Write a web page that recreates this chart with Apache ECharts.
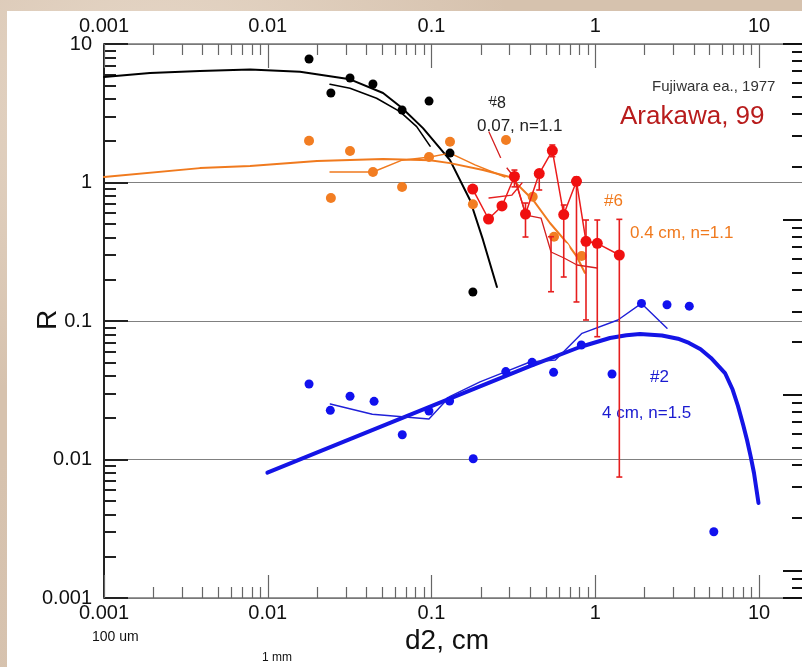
<!DOCTYPE html>
<html>
<head>
<meta charset="utf-8">
<script src="https://cdn.jsdelivr.net/npm/echarts@6/dist/echarts.min.js"></script>
<style>
  html, body { margin:0; padding:0; }
  body {
    width:802px; height:667px; position:relative; overflow:hidden;
    background-color:#d6c2ae;
    background-image:
      radial-gradient(ellipse at 20% 15%, rgba(235,222,208,0.8), rgba(235,222,208,0) 40%),
      radial-gradient(ellipse at 80% 60%, rgba(196,170,150,0.7), rgba(196,170,150,0) 45%),
      radial-gradient(ellipse at 40% 90%, rgba(225,205,188,0.8), rgba(225,205,188,0) 50%);
  }
  #panel { position:absolute; left:7px; top:11px; right:0; bottom:0; background:#fff; }
  #chart { position:absolute; left:0; top:0; width:802px; height:667px; }
</style>
</head>
<body>
<div id="panel"></div>
<div id="chart"></div>
<script>
// ---------- data (x = d2 in cm, y = R) ----------
const xTickLabels = [0.001, 0.01, 0.1, 1, 10];
const yTickLabels = [0.001, 0.01, 0.1, 1, 10];

// Fujiwara #8 (0.07 cm)
const blackPts = [[0.01787,7.8],[0.0243,4.43],[0.0318,5.68],[0.0439,5.14],[0.0661,3.34],[0.0966,3.87],[0.1297,1.63],[0.179,0.162]];
const blackFit = [[0.001,5.78],[0.00191,6.18],[0.00385,6.38],[0.0078,6.55],[0.01574,6.31],[0.0318,5.56],[0.0506,4.43],[0.0661,3.45],[0.0887,2.47],[0.1297,1.45],[0.1718,0.748],[0.2063,0.385],[0.251,0.176]];
const blackModel = [[0.024,5.12],[0.0318,4.79],[0.0462,4.06],[0.0642,3.25],[0.0812,2.53],[0.098,1.83]];

// Fujiwara #6 (0.4 cm)
const orangePts = [[0.01787,2.0],[0.0243,0.773],[0.0318,1.69],[0.0439,1.19],[0.0661,0.928],[0.0966,1.53],[0.1297,1.97],[0.179,0.696],[0.285,2.03],[0.415,0.79],[0.56,0.406],[0.826,0.295]];
const orangeFit = [[0.001,1.096],[0.00385,1.27],[0.0078,1.315],[0.02,1.43],[0.0506,1.48],[0.098,1.45],[0.1297,1.38],[0.2063,1.23],[0.301,1.096],[0.417,0.748],[0.529,0.51],[0.672,0.366],[0.774,0.29],[0.865,0.222]];
const orangeModel = [[0.024,1.19],[0.0439,1.19],[0.0661,1.45],[0.098,1.53],[0.1297,1.63],[0.1844,1.34],[0.281,1.096]];

// Arakawa 99
const redPts = [[0.1785,0.897],[0.223,0.545],[0.2694,0.677],[0.321,1.105],[0.375,0.592],[0.455,1.16],[0.547,1.70],[0.642,0.587],[0.768,1.02],[0.878,0.376],[1.029,0.364],[1.403,0.2996]];
const redErr = [[0.321,0.93,1.23],[0.375,0.404,0.711],[0.455,0.883,1.231],[0.547,1.536,1.866],[0.642,0.2078,0.688],[0.768,0.1372,1.096],[0.878,0.1017,0.536],[1.029,0.077,0.536],[1.403,0.00747,0.542],[0.537,0.1627,0.406]];
const redOpen = [[0.1785,2.24],[0.2223,3.38],[0.2714,1.372],[0.3777,0.4797],[0.537,0.2757],[0.64,0.335],[0.878,0.1993],[1.025,0.2827],[1.387,0.1294]];
const redOpenLine = [[0.2245,2.315],[0.2733,1.383],[0.319,1.096],[0.3777,0.582],[0.4665,0.554],[0.537,0.315],[0.6445,0.285],[0.774,0.2537],[1.025,0.2414]];
const redShort = [[0.2245,0.773],[0.31,0.812],[0.357,0.992]];

// Fujiwara #2 (4 cm)
const bluePts = [[0.01787,0.0351],[0.0241,0.02265],[0.0318,0.0286],[0.0446,0.0263],[0.0663,0.0151],[0.0965,0.0224],[0.129,0.02645],[0.1798,0.01013],[0.2843,0.0431],[0.4114,0.0503],[0.5566,0.0426],[0.822,0.0671],[1.266,0.0414],[1.916,0.134],[2.743,0.131],[3.753,0.128],[5.297,0.00301]];
const blueFit = [[0.00995,0.00803],[0.3995,0.0473],[0.807,0.0649],[1.23,0.0754],[1.55,0.0788],[1.876,0.0806],[2.556,0.0786],[3.2,0.0745],[3.736,0.0694],[4.4,0.0625],[5.09,0.0541],[6.2,0.0421],[6.9,0.032],[7.44,0.02434],[8.0,0.0178],[8.45,0.01383],[8.9,0.0105],[9.32,0.00799],[9.93,0.00485]];
const blueModel = [[0.0241,0.02516],[0.0435,0.0212],[0.0965,0.0196],[0.129,0.0284],[0.1978,0.0363],[0.2843,0.0431],[0.3995,0.0506],[0.571,0.0523],[0.83,0.0815],[1.375,0.1017],[1.916,0.134],[2.743,0.0886]];

// ---------- chart ----------
const FONT = '"Liberation Sans", Arial, sans-serif';
const fmt = v => { const r = +(+v).toPrecision(6); return xTickLabels.indexOf(r) >= 0 || yTickLabels.indexOf(r) >= 0 ? String(r) : ''; };

const chart = echarts.init(document.getElementById('chart'), null, { renderer: 'canvas' });

const dataAxisX = (pos, len, margin) => ({
  gridIndex: 1, type: 'log', logBase: 10, min: 0.001, max: 10, position: pos,
  axisLine: { show: false },
  axisTick: { show: true, inside: true, length: len, lineStyle: { color: '#666', width: 1.2 } },
  minorTick: { show: true, splitNumber: 9, length: 11, lineStyle: { color: '#666', width: 1.2 } },
  axisLabel: { show: true, formatter: fmt, fontSize: 20, color: '#111', fontFamily: FONT, margin: margin },
  splitLine: { show: false }
});

const frameAxisX = (pos) => ({
  gridIndex: 0, type: 'log', min: 0.001, max: 18.31, position: pos,
  axisLine: { show: true, lineStyle: { color: '#777', width: 1.5 } },
  axisTick: { show: false }, axisLabel: { show: false }, splitLine: { show: false }
});

function lineS(data, color, width, z) {
  return { type: 'line', xAxisIndex: 2, yAxisIndex: 2, data: data, showSymbol: false, symbol: 'none',
    smooth: false, lineStyle: { color: color, width: width, join: 'round', cap: 'round' }, z: z || 3, silent: true };
}
function dots(data, color, size, z) {
  return { type: 'scatter', xAxisIndex: 2, yAxisIndex: 2, data: data, symbol: 'circle', symbolSize: size,
    itemStyle: { color: color, opacity: 1 }, z: z || 5, silent: true };
}

const option = {
  animation: false,
  backgroundColor: 'transparent',
  grid: [
    { left: 104, top: 44, width: 698, height: 554 },
    { left: 104, top: 44, width: 655, height: 554 }
  ],
  xAxis: [
    frameAxisX('bottom'),
    frameAxisX('top'),
    dataAxisX('bottom', 23, 5),
    dataAxisX('top', 24, 8)
  ],
  yAxis: [
    { gridIndex: 0, type: 'log', min: 0.001, max: 10, position: 'left',
      axisLine: { show: true, lineStyle: { color: '#222', width: 2 } },
      axisTick: { show: true, inside: true, length: 24, lineStyle: { color: '#222', width: 2 } },
      minorTick: { show: true, splitNumber: 9, length: 12, lineStyle: { color: '#222', width: 2 } },
      axisLabel: { formatter: fmt, fontSize: 20, color: '#111', fontFamily: FONT, margin: 12 },
      splitLine: { show: true, lineStyle: { color: '#808080', width: 1 } } },
    { gridIndex: 0, type: 'log', min: 0.00697, max: 10, position: 'right',
      axisLine: { show: false },
      axisTick: { show: true, inside: true, length: 19, lineStyle: { color: '#111', width: 2 } },
      minorTick: { show: true, splitNumber: 9, length: 10, lineStyle: { color: '#111', width: 2 } },
      axisLabel: { show: false }, splitLine: { show: false } },
    { gridIndex: 1, type: 'log', min: 0.001, max: 10, show: false }
  ],
  series: [
    lineS(blackFit, '#000', 2),
    lineS(blackModel, '#000', 1.6),
    dots(blackPts, '#000', 9),

    lineS(orangeFit, '#f07a1e', 2),
    lineS(orangeModel, '#f07a1e', 1.5),
    dots(orangePts, '#f27d22', 10),

    lineS(redOpenLine, '#d42020', 1.3, 4),
    lineS(redShort, '#e62020', 1.3, 4),
    { type: 'scatter', xAxisIndex: 2, yAxisIndex: 2, data: redOpen, symbol: 'emptyCircle', symbolSize: 10,
      itemStyle: { color: '#fff', borderColor: '#ee5050', borderWidth: 1.2, opacity: 1 }, z: 5, silent: true },
    { type: 'custom', xAxisIndex: 2, yAxisIndex: 2, data: redErr, z: 6, silent: true,
      encode: { x: 0, y: [1, 2] },
      renderItem: function (params, api) {
        const x = api.value(0), lo = api.value(1), hi = api.value(2);
        const a = api.coord([x, lo]), b = api.coord([x, hi]);
        const st = { stroke: '#e61e1e', lineWidth: 1.6 };
        return { type: 'group', children: [
          { type: 'line', shape: { x1: a[0], y1: a[1], x2: b[0], y2: b[1] }, style: st },
          { type: 'line', shape: { x1: a[0] - 3, y1: a[1], x2: a[0] + 3, y2: a[1] }, style: st },
          { type: 'line', shape: { x1: b[0] - 3, y1: b[1], x2: b[0] + 3, y2: b[1] }, style: st }
        ] };
      } },
    { type: 'line', xAxisIndex: 2, yAxisIndex: 2, data: redPts, symbol: 'circle', symbolSize: 11, showSymbol: true,
      lineStyle: { color: '#ec1c1c', width: 1.5 }, itemStyle: { color: '#f01010', borderWidth: 0 }, z: 7, silent: true },

    lineS(blueFit, '#1414e6', 4, 4),
    lineS(blueModel, '#2020d8', 1.4, 4),
    dots(bluePts, '#1111ee', 9)
  ],
  graphic: [
    { type: 'text', x: 488, y: 104, style: { text: '#8', font: '16px ' + FONT, fill: '#222', verticalAlign: 'middle' } },
    { type: 'text', x: 477, y: 126, style: { text: '0.07, n=1.1', font: '17px ' + FONT, fill: '#222', verticalAlign: 'middle' } },
    { type: 'text', x: 652, y: 87, style: { text: 'Fujiwara ea., 1977', font: '15px ' + FONT, fill: '#333', verticalAlign: 'middle' } },
    { type: 'text', x: 620, y: 117, style: { text: 'Arakawa, 99', font: '26px ' + FONT, fill: '#b81c1c', verticalAlign: 'middle' } },
    { type: 'text', x: 604, y: 201, style: { text: '#6', font: '17px ' + FONT, fill: '#f07a1e', verticalAlign: 'middle' } },
    { type: 'text', x: 630, y: 233, style: { text: '0.4 cm, n=1.1', font: '17px ' + FONT, fill: '#f07a1e', verticalAlign: 'middle' } },
    { type: 'text', x: 650, y: 377, style: { text: '#2', font: '17px ' + FONT, fill: '#1a1ad0', verticalAlign: 'middle' } },
    { type: 'text', x: 602, y: 413, style: { text: '4 cm, n=1.5', font: '17px ' + FONT, fill: '#1a1ad0', verticalAlign: 'middle' } },
    { type: 'text', x: 405, y: 641, style: { text: 'd2, cm', font: '28px ' + FONT, fill: '#111', verticalAlign: 'middle' } },
    { type: 'text', x: 92, y: 637, style: { text: '100 um', font: '14px ' + FONT, fill: '#111', verticalAlign: 'middle' } },
    { type: 'text', x: 262, y: 658, style: { text: '1 mm', font: '12px ' + FONT, fill: '#111', verticalAlign: 'middle' } },
    { type: 'text', x: 48, y: 320, rotation: Math.PI / 2, style: { text: 'R', font: '28px ' + FONT, fill: '#111', align: 'center', verticalAlign: 'middle' } }
  ]
};
chart.setOption(option);
</script>
</body>
</html>
